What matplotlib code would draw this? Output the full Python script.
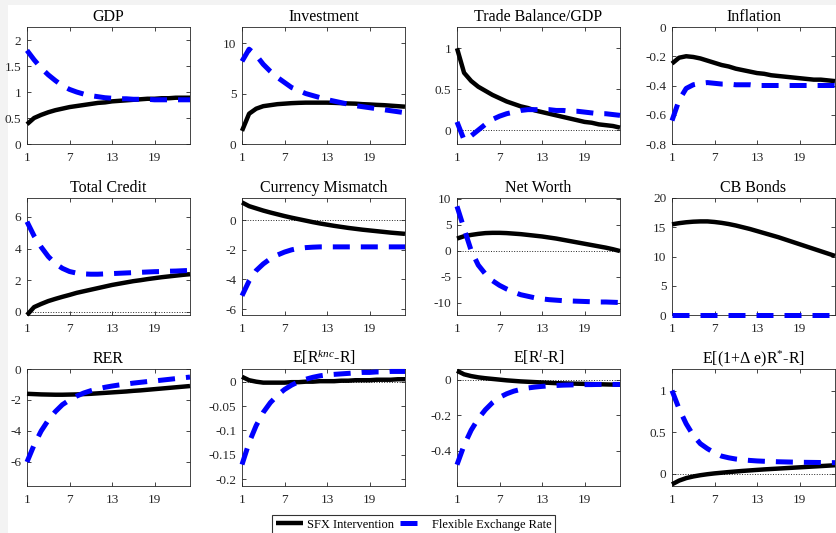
import numpy as np
import matplotlib
matplotlib.use('Agg')
import matplotlib.pyplot as plt
from matplotlib.patches import Rectangle

plt.rcParams['font.family'] = 'Liberation Serif'
plt.rcParams['mathtext.fontset'] = 'custom'
plt.rcParams['mathtext.rm'] = 'Liberation Serif'
plt.rcParams['mathtext.it'] = 'Liberation Serif:italic'

# quarters after the shock
t = np.arange(1, 25)

titles = ['GDP', 'Investment', 'Trade Balance/GDP', 'Inflation',
          'Total Credit', 'Currency Mismatch', 'Net Worth', 'CB Bonds',
          'RER', r'E[R$^{knc}$-R]', r'E[R$^{l}$-R]', r'E[(1+$\Delta$ e)R$^{*}$-R]']

# SFX intervention (solid black)
sfx = [
    [0.38, 0.50, 0.56, 0.61, 0.65, 0.68, 0.71, 0.73, 0.75, 0.77, 0.79, 0.80, 0.82, 0.83, 0.84, 0.85, 0.86, 0.87, 0.87, 0.88, 0.88, 0.89, 0.89, 0.89],
    [1.3, 3.0, 3.5, 3.75, 3.85, 3.95, 4.0, 4.05, 4.08, 4.1, 4.1, 4.1, 4.1, 4.08, 4.05, 4.02, 4.0, 3.95, 3.92, 3.88, 3.85, 3.8, 3.75, 3.7],
    [1.0, 0.70, 0.60, 0.53, 0.48, 0.43, 0.39, 0.35, 0.32, 0.29, 0.27, 0.24, 0.22, 0.20, 0.18, 0.16, 0.14, 0.12, 0.10, 0.09, 0.07, 0.06, 0.05, 0.03],
    [-0.25, -0.21, -0.20, -0.205, -0.215, -0.23, -0.245, -0.26, -0.27, -0.285, -0.295, -0.305, -0.315, -0.32, -0.33, -0.335, -0.34, -0.345, -0.35, -0.355, -0.36, -0.36, -0.365, -0.37],
    [-0.2, 0.3, 0.5, 0.68, 0.82, 0.95, 1.07, 1.2, 1.3, 1.4, 1.5, 1.6, 1.7, 1.78, 1.86, 1.94, 2.0, 2.07, 2.13, 2.19, 2.24, 2.29, 2.34, 2.38],
    [1.2, 0.95, 0.8, 0.65, 0.52, 0.4, 0.28, 0.17, 0.07, -0.03, -0.13, -0.22, -0.3, -0.38, -0.45, -0.52, -0.58, -0.64, -0.69, -0.74, -0.79, -0.84, -0.88, -0.92],
    [2.3, 2.75, 3.0, 3.2, 3.35, 3.4, 3.4, 3.35, 3.25, 3.15, 3.0, 2.85, 2.7, 2.5, 2.3, 2.05, 1.8, 1.55, 1.3, 1.05, 0.8, 0.55, 0.25, -0.1],
    [15.5, 15.7, 15.85, 15.95, 16.0, 16.0, 15.9, 15.75, 15.55, 15.3, 15.0, 14.7, 14.35, 14.0, 13.65, 13.3, 12.9, 12.5, 12.1, 11.7, 11.3, 10.9, 10.5, 10.1],
    [-1.6, -1.62, -1.64, -1.65, -1.66, -1.66, -1.65, -1.64, -1.62, -1.6, -1.57, -1.54, -1.51, -1.48, -1.45, -1.41, -1.38, -1.34, -1.3, -1.26, -1.22, -1.18, -1.14, -1.1],
    [0.010, 0.003, 0.0, -0.002, -0.002, -0.002, -0.002, -0.001, -0.001, 0.0, 0.0, 0.001, 0.001, 0.001, 0.002, 0.002, 0.003, 0.003, 0.003, 0.004, 0.004, 0.004, 0.005, 0.005],
    [0.05, 0.03, 0.02, 0.013, 0.008, 0.004, 0.0, -0.004, -0.007, -0.01, -0.012, -0.014, -0.016, -0.018, -0.02, -0.021, -0.022, -0.023, -0.024, -0.025, -0.026, -0.027, -0.028, -0.028],
    [-0.13, -0.085, -0.055, -0.035, -0.02, -0.008, 0.002, 0.01, 0.018, 0.025, 0.032, 0.038, 0.044, 0.05, 0.055, 0.06, 0.065, 0.07, 0.075, 0.08, 0.085, 0.09, 0.095, 0.1],
]

# flexible exchange rate (dashed blue)
flex = [
    [1.80, 1.62, 1.46, 1.33, 1.22, 1.12, 1.05, 1.00, 0.96, 0.93, 0.91, 0.89, 0.88, 0.87, 0.87, 0.86, 0.86, 0.86, 0.85, 0.85, 0.85, 0.85, 0.85, 0.85],
    [8.2, 9.4, 8.8, 7.9, 7.2, 6.6, 6.1, 5.6, 5.3, 5.0, 4.8, 4.6, 4.4, 4.25, 4.1, 3.95, 3.8, 3.7, 3.6, 3.5, 3.4, 3.3, 3.2, 3.1],
    [0.10, -0.12, -0.07, 0.0, 0.07, 0.13, 0.17, 0.20, 0.22, 0.24, 0.25, 0.25, 0.25, 0.25, 0.24, 0.24, 0.23, 0.23, 0.22, 0.21, 0.20, 0.20, 0.19, 0.18],
    [-0.64, -0.50, -0.42, -0.395, -0.385, -0.38, -0.385, -0.39, -0.39, -0.395, -0.395, -0.395, -0.40, -0.40, -0.40, -0.40, -0.40, -0.40, -0.40, -0.40, -0.40, -0.40, -0.40, -0.40],
    [5.7, 4.8, 4.1, 3.5, 3.05, 2.75, 2.55, 2.45, 2.4, 2.38, 2.38, 2.4, 2.42, 2.44, 2.46, 2.48, 2.5, 2.52, 2.54, 2.55, 2.57, 2.58, 2.6, 2.62],
    [-5.1, -4.1, -3.4, -2.95, -2.6, -2.35, -2.15, -2.0, -1.9, -1.85, -1.82, -1.8, -1.8, -1.8, -1.8, -1.8, -1.8, -1.8, -1.8, -1.8, -1.8, -1.8, -1.8, -1.8],
    [8.5, 4.2, 0.0, -2.8, -4.5, -5.8, -6.7, -7.4, -8.0, -8.5, -8.8, -9.1, -9.3, -9.45, -9.55, -9.65, -9.7, -9.75, -9.8, -9.85, -9.9, -9.9, -9.95, -10.0],
    [0.0] * 24,
    [-6.0, -4.9, -4.0, -3.3, -2.75, -2.3, -2.0, -1.75, -1.55, -1.4, -1.28, -1.18, -1.1, -1.03, -0.97, -0.91, -0.86, -0.81, -0.77, -0.72, -0.67, -0.62, -0.57, -0.52],
    [-0.17, -0.125, -0.09, -0.063, -0.043, -0.028, -0.016, -0.007, 0.0, 0.005, 0.009, 0.012, 0.014, 0.015, 0.016, 0.017, 0.018, 0.019, 0.019, 0.02, 0.02, 0.021, 0.021, 0.021],
    [-0.48, -0.37, -0.285, -0.22, -0.17, -0.13, -0.1, -0.08, -0.065, -0.055, -0.047, -0.042, -0.038, -0.035, -0.033, -0.031, -0.03, -0.029, -0.028, -0.028, -0.027, -0.027, -0.027, -0.027],
    [1.0, 0.78, 0.6, 0.46, 0.36, 0.3, 0.25, 0.21, 0.19, 0.175, 0.165, 0.158, 0.152, 0.148, 0.145, 0.142, 0.14, 0.138, 0.136, 0.135, 0.134, 0.133, 0.132, 0.131],
]

ylims = [(0, 2.25), (0, 11.6), (-0.17, 1.26), (-0.8, 0),
         (-0.2, 7.2), (-6.4, 1.5), (-12.4, 10.1), (0, 20),
         (-7.55, 0), (-0.214, 0.026), (-0.6, 0.06), (-0.15, 1.26)]
yticks = [[0, 0.5, 1, 1.5, 2], [0, 5, 10], [0, 0.5, 1], [-0.8, -0.6, -0.4, -0.2, 0],
          [0, 2, 4, 6], [-6, -4, -2, 0], [-10, -5, 0, 5, 10], [0, 5, 10, 15, 20],
          [-6, -4, -2, 0], [-0.2, -0.15, -0.1, -0.05, 0], [-0.4, -0.2, 0], [0, 0.5, 1]]
xticks = [1, 7, 13, 19]

W, H = 836, 533
fig = plt.figure(figsize=(W / 100, H / 100), dpi=100, facecolor='#f3f3f3')
fig.patches.append(Rectangle((8 / W, 0), 1, 1 - 5 / H, transform=fig.transFigure,
                             facecolor='white', edgecolor='none', zorder=-10))

lefts = [27, 242, 457, 672]
tops = [27, 198, 369]
aw, ah = 163, 117
grey = '#262626'

for i in range(12):
    r, c = divmod(i, 4)
    ax = fig.add_axes([lefts[c] / W, 1 - (tops[r] + ah) / H, aw / W, ah / H])
    lo, hi = ylims[i]
    if lo < 0 < hi:
        ax.axhline(0, color=grey, lw=0.7, ls=':', zorder=1)
    ax.plot(t, sfx[i], color='k', lw=3.2, solid_capstyle='butt', clip_on=False, zorder=3,
            label='SFX Intervention')
    ax.plot(t, flex[i], color='#0000ff', lw=3.6, ls=(0, (3.4, 2.2)), clip_on=False, zorder=4,
            label='Flexible Exchange Rate')
    ax.set_xlim(1, 24)
    ax.set_ylim(lo, hi)
    ax.set_xticks(xticks)
    ax.set_yticks(yticks[i])
    ax.set_yticklabels([('%g' % v) for v in yticks[i]])
    ax.tick_params(direction='in', top=True, right=True, length=3, width=0.6,
                   labelsize=9.5, colors=grey)
    ax.tick_params(axis='x', pad=6)
    ax.tick_params(axis='y', pad=4)
    for s in ax.spines.values():
        s.set_color(grey)
        s.set_linewidth(0.6)
    ax.set_title(titles[i], fontsize=11.5, pad=4)
    if i == 0:
        handles, labels = ax.get_legend_handles_labels()

leg = fig.legend(handles, labels, loc='upper left', bbox_to_anchor=(272 / W, 1 - 515 / H),
                 ncol=2, fontsize=9, frameon=True, fancybox=False, edgecolor='k',
                 handlelength=2.2, borderaxespad=0, columnspacing=0.5, handletextpad=0.3,
                 borderpad=0.3)
leg.get_frame().set_linewidth(0.8)

fig.savefig('out.png', dpi=100, facecolor=fig.get_facecolor())
